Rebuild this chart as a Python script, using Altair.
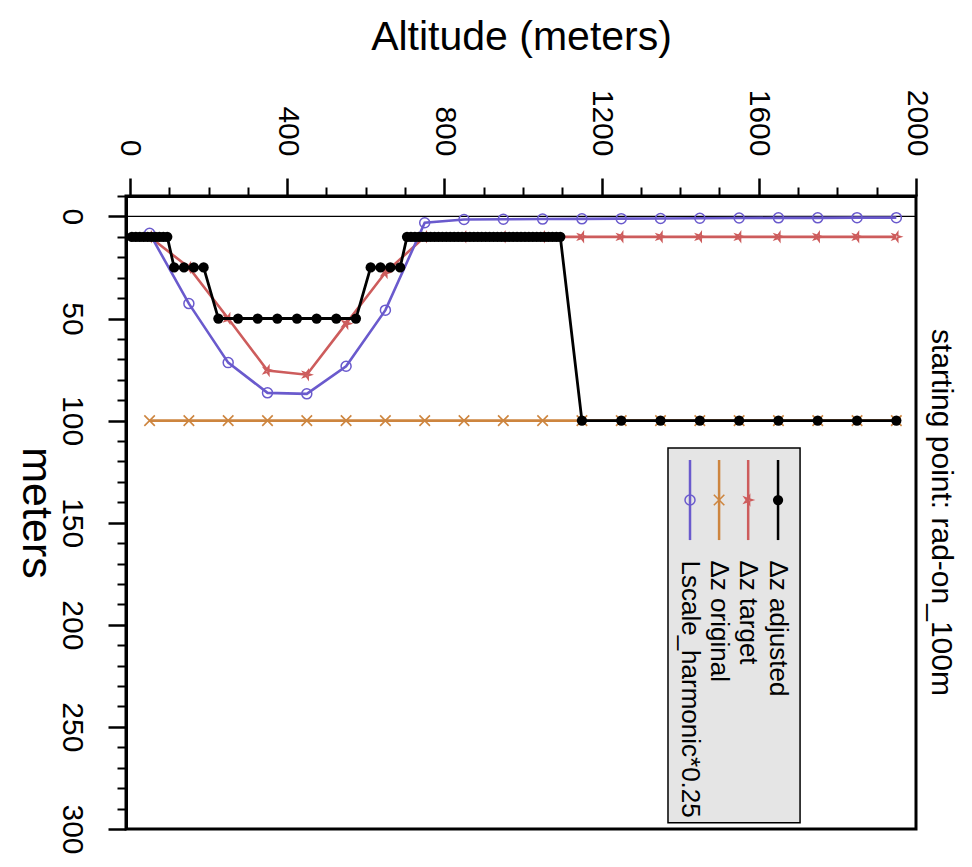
import altair as alt
import pandas as pd

FONT = "Liberation Sans"

# ---------------- data ----------------
# Δz adjusted (layer mid-point altitude, layer thickness)
adj_alt = [5, 15, 25, 35, 45, 55, 65, 75, 85, 95,
           112.5, 137.5, 162.5, 187.5,
           225, 275, 325, 375, 425, 475, 525, 575,
           612.5, 637.5, 662.5, 687.5,
           705, 715, 725, 735, 745, 755, 765, 775, 785, 795,
           805, 815, 825, 835, 845, 855, 865, 875, 885, 895,
           905, 915, 925, 935, 945, 955, 965, 975, 985, 995,
           1005, 1015, 1025, 1035, 1045, 1055, 1065, 1075, 1085, 1095,
           1150, 1250, 1350, 1450, 1550, 1650, 1750, 1850, 1950]
adj_dz = [10, 10, 10, 10, 10, 10, 10, 10, 10, 10,
          25, 25, 25, 25,
          50, 50, 50, 50, 50, 50, 50, 50,
          25, 25, 25, 25,
          10, 10, 10, 10, 10, 10, 10, 10, 10, 10,
          10, 10, 10, 10, 10, 10, 10, 10, 10, 10,
          10, 10, 10, 10, 10, 10, 10, 10, 10, 10,
          10, 10, 10, 10, 10, 10, 10, 10, 10, 10,
          100, 100, 100, 100, 100, 100, 100, 100, 100]

std_alt = [50, 150, 250, 350, 450, 550, 650, 750, 850, 950,
           1050, 1150, 1250, 1350, 1450, 1550, 1650, 1750, 1850, 1950]
tgt_dz = [10, 25, 50, 75.5, 77.5, 52.5, 27.5, 10, 10, 10,
          10, 10, 10, 10, 10, 10, 10, 10, 10, 10]
orig_dz = [100, 100, 100, 100, 100, 100, 100, 100, 100, 100,
           100, 100, 100, 100, 100, 100, 100, 100, 100, 100]
lscale = [8.3, 42.7, 71.6, 86.4, 86.9, 73.4, 45.9, 3.1, 1.5, 1.4,
          1.3, 1.2, 1.1, 1.0, 0.9, 0.8, 0.7, 0.7, 0.6, 0.6]

legend_labels = ["Δz adjusted", "Δz target", "Δz original", "Lscale_harmonic*0.25"]

x_major = [0, 400, 800, 1200, 1600, 2000]
x_minor = [100, 200, 300, 500, 600, 700, 900, 1000, 1100,
           1300, 1400, 1500, 1700, 1800, 1900]
y_major = [0, 50, 100, 150, 200, 250, 300]
y_minor = [-10, 10, 20, 30, 40, 60, 70, 80, 90, 110, 120, 130, 140,
           160, 170, 180, 190, 210, 220, 230, 240, 260, 270, 280, 290]

# ---------------- styles / layout ----------------
BLACK = "#000000"
RED = "#cd5c5c"
ORANGE = "#cd853f"
BLUE = "#6a5acd"
CROSS = "M-1,-1L1,1M-1,1L1,-1"
STAR = ("M0,-1L0.22,-0.3L0.95,-0.31L0.36,0.12L0.59,0.81L0,0.38"
        "L-0.59,0.81L-0.36,0.12L-0.95,-0.31L-0.22,-0.3Z")

# legend placement in data coordinates (altitude, meters)
LEG_BOX = dict(x=1369, x2=1705, y=113.4, y2=297)
LEG_COLS = [1649, 1573, 1499, 1425]
LEG_LINE = (119.3, 158.5)
LEG_MARK = 138.9
LEG_TEXT = 168.5

xscale = alt.Scale(domain=[-10, 2000], nice=False, zero=False)
yscale = alt.Scale(domain=[-10, 300], nice=False, zero=False, reverse=True)

axis_common = dict(grid=False, tickColor="black", domainColor="black",
                   labelColor="black", titleColor="black", labelFont=FONT,
                   titleFont=FONT, labelFlush=False, labelOverlap=False)

ax_x_major = alt.Axis(orient="top", values=x_major, format="d", labelAngle=90,
                      labelAlign="right", labelBaseline="middle", labelFontSize=30,
                      labelPadding=22, tickSize=18, tickWidth=2.5, domainWidth=3,
                      title="Altitude (meters)", titleFontSize=41,
                      titleFontWeight="normal", titlePadding=31, **axis_common)
ax_x_minor = alt.Axis(orient="top", values=x_minor, labels=False, tickSize=9,
                      tickWidth=2, domain=False, grid=False, tickColor="black",
                      title=None)
ax_y_major = alt.Axis(orient="left", values=y_major, format="d", labelAngle=90,
                      labelAlign="center", labelBaseline="top", labelFontSize=30,
                      labelPadding=22, tickSize=18, tickWidth=2.5, domainWidth=3,
                      title="meters", titleAngle=90, titleBaseline="top",
                      titleFontSize=43, titleFontWeight="normal", titlePadding=0,
                      **axis_common)
ax_y_minor = alt.Axis(orient="left", values=y_minor, labels=False, tickSize=9,
                      tickWidth=2, domain=False, grid=False, tickColor="black",
                      title=None)


def enc(chart, xaxis=None, yaxis=None, xf="alt", yf="val"):
    return chart.encode(
        x=alt.X(f"{xf}:Q", scale=xscale, axis=xaxis),
        y=alt.Y(f"{yf}:Q", scale=yscale, axis=yaxis),
    )


df_adj = pd.DataFrame({"alt": adj_alt, "val": adj_dz, "o": range(len(adj_alt))})
df_tgt = pd.DataFrame({"alt": std_alt, "val": tgt_dz})
df_orig = pd.DataFrame({"alt": std_alt, "val": orig_dz})
df_lsc = pd.DataFrame({"alt": std_alt, "val": lscale})

zero = alt.Chart(pd.DataFrame({"val": [0]})).mark_rule(color="black", strokeWidth=1.3).encode(
    y=alt.Y("val:Q", scale=yscale, axis=None))

orig_line = enc(alt.Chart(df_orig).mark_line(color=ORANGE, strokeWidth=2.6),
                ax_x_major, ax_y_major)
orig_pts = enc(alt.Chart(df_orig).mark_point(shape=CROSS, color=ORANGE, size=110,
                                              strokeWidth=1.6, filled=False, opacity=1),
               ax_x_minor, ax_y_minor)
tgt_line = enc(alt.Chart(df_tgt).mark_line(color=RED, strokeWidth=2.6))
tgt_pts = enc(alt.Chart(df_tgt).mark_point(shape=STAR, color=RED, size=80, angle=90,
                                            strokeWidth=1.6, filled=False, opacity=1))
lsc_line = enc(alt.Chart(df_lsc).mark_line(color=BLUE, strokeWidth=2.6))
lsc_pts = enc(alt.Chart(df_lsc).mark_point(shape="circle", color=BLUE, size=100,
                                            strokeWidth=1.5, filled=False, opacity=1))
adj_line = alt.Chart(df_adj).mark_line(color=BLACK, strokeWidth=2.8).encode(
    x=alt.X("alt:Q", scale=xscale, axis=None),
    y=alt.Y("val:Q", scale=yscale, axis=None),
    order="o:Q")
adj_pts = enc(alt.Chart(df_adj).mark_circle(color=BLACK, size=105, opacity=1))

# ---------------- legend ----------------
leg_box = alt.Chart(pd.DataFrame([LEG_BOX])).mark_rect(
    fill="#e5e5e5", stroke="black", strokeWidth=1.5).encode(
    x=alt.X("x:Q", scale=xscale, axis=None), x2="x2:Q",
    y=alt.Y("y:Q", scale=yscale, axis=None), y2="y2:Q")

leg_df = pd.DataFrame({
    "label": legend_labels,
    "col": LEG_COLS,
    "y1": [LEG_LINE[0]] * 4,
    "y2": [LEG_LINE[1]] * 4,
    "ym": [LEG_MARK] * 4,
    "yt": [LEG_TEXT] * 4,
    "color": [BLACK, RED, ORANGE, BLUE],
})
leg_rules = alt.Chart(leg_df).mark_rule(strokeWidth=2.5).encode(
    x=alt.X("col:Q", scale=xscale, axis=None),
    y=alt.Y("y1:Q", scale=yscale, axis=None), y2="y2:Q",
    color=alt.Color("color:N", scale=None))
leg_text = alt.Chart(leg_df).mark_text(angle=90, align="left", baseline="middle",
                                       fontSize=26, font=FONT, color="black").encode(
    x=alt.X("col:Q", scale=xscale, axis=None),
    y=alt.Y("yt:Q", scale=yscale, axis=None),
    text="label:N")
leg_m_adj = enc(alt.Chart(leg_df.iloc[[0]]).mark_circle(color=BLACK, size=105, opacity=1),
                xf="col", yf="ym")
leg_m_tgt = enc(alt.Chart(leg_df.iloc[[1]]).mark_point(shape=STAR, color=RED, size=80, angle=90,
                                                        strokeWidth=1.6, filled=False, opacity=1),
                xf="col", yf="ym")
leg_m_orig = enc(alt.Chart(leg_df.iloc[[2]]).mark_point(shape=CROSS, color=ORANGE, size=110,
                                                         strokeWidth=1.6, filled=False, opacity=1),
                 xf="col", yf="ym")
leg_m_lsc = enc(alt.Chart(leg_df.iloc[[3]]).mark_point(shape="circle", color=BLUE, size=100,
                                                        strokeWidth=1.5, filled=False, opacity=1),
                xf="col", yf="ym")

chart = alt.layer(
    zero, orig_line, orig_pts, tgt_line, tgt_pts, lsc_line, lsc_pts, adj_line, adj_pts,
    leg_box, leg_rules, leg_m_adj, leg_m_tgt, leg_m_orig, leg_m_lsc, leg_text,
).resolve_axis(x="independent", y="independent").properties(
    width=790, height=633,
    padding={"left": 118, "top": 188, "right": 46, "bottom": 34},
    autosize=alt.AutoSizeParams(type="none"),
    background="white",
    title=alt.TitleParams("starting point: rad-on_100m", orient="right", anchor="middle",
                          fontSize=30, font=FONT, fontWeight="normal", color="black",
                          offset=-5),
).configure_view(stroke="black", strokeWidth=3)

chart.save("out.html", embed_options={"renderer": "svg", "actions": False})
